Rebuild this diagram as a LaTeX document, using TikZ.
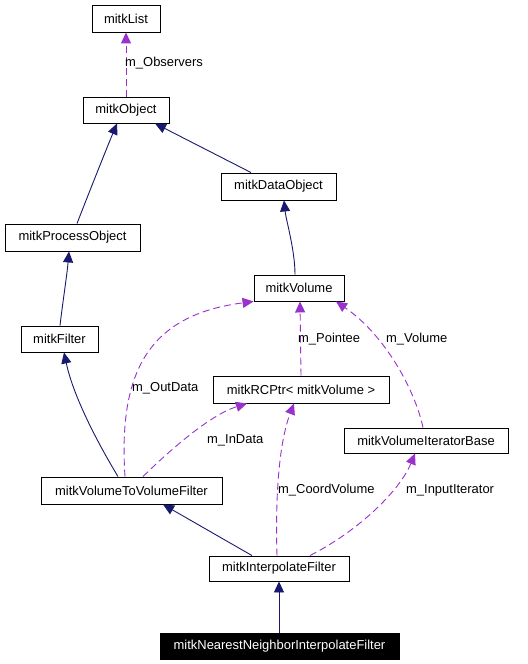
\documentclass[tikz,border=0pt]{standalone}
\usepackage{fontspec}
\setmainfont{Liberation Sans}
\usetikzlibrary{arrows.meta}
\definecolor{inh}{RGB}{25,25,112}
\definecolor{usg}{RGB}{153,50,204}
\begin{document}
\begin{tikzpicture}[x=1bp,y=-1bp,
  every node/.style={font=\fontsize{13}{15}\selectfont},
  cls/.style={draw=black,line width=0.9bp,inner sep=0pt,fill=white},
  hl/.style={cls,fill=black,text=white},
  inhedge/.style={draw=inh,line width=0.9bp,-{Triangle[length=11bp,width=10bp]}},
  usedge/.style={draw=usg,line width=0.9bp,dash pattern=on 7bp off 4bp,-{Triangle[length=11bp,width=10bp]}},
  lbl/.style={anchor=west,inner sep=0pt}]
\useasboundingbox[fill=white] (0,0) rectangle (528,664);
% classes
\node[cls,minimum width=68bp,minimum height=27bp] (list) at (126,18.5) {mitkList};
\node[cls,minimum width=86bp,minimum height=26bp] (object) at (126,110) {mitkObject};
\node[cls,minimum width=115bp,minimum height=27bp] (dataobj) at (278.5,186.5) {mitkDataObject};
\node[cls,minimum width=135bp,minimum height=27bp] (procobj) at (72.5,237.5) {mitkProcessObject};
\node[cls,minimum width=90bp,minimum height=26bp] (volume) at (299,288) {mitkVolume};
\node[cls,minimum width=77bp,minimum height=26bp] (filter) at (59.5,339) {mitkFilter};
\node[cls,minimum width=176bp,minimum height=27bp] (rcptr) at (301,389.5) {mitkRCPtr< mitkVolume >};
\node[cls,minimum width=164bp,minimum height=25bp] (vib) at (426,440.5) {mitkVolumeIteratorBase};
\node[cls,minimum width=181bp,minimum height=27bp] (v2v) at (131.5,490.5) {mitkVolumeToVolumeFilter};
\node[cls,minimum width=140bp,minimum height=25bp] (interp) at (279,568.5) {mitkInterpolateFilter};
\node[hl,minimum width=239bp,minimum height=26bp] (nn) at (279.5,646) {mitkNearestNeighborInterpolateFilter};
% inheritance
\draw[inhedge] ([xshift=4.5bp]procobj.north) .. controls (90,190) and (108,145) .. ([xshift=-9bp]object.south);
\draw[inhedge] ([xshift=-27.5bp]dataobj.north) -- ([xshift=29bp]object.south);
\draw[inhedge] ([xshift=-4bp]volume.north) .. controls (295,250) and (286,220) .. ([xshift=5.5bp]dataobj.south);
\draw[inhedge] ([xshift=0.5bp]filter.north) .. controls (63,300) and (67,275) .. ([xshift=-3.5bp]procobj.south);
\draw[inhedge] ([xshift=-13.5bp]v2v.north) .. controls (90,430) and (72,390) .. ([xshift=4.5bp]filter.south);
\draw[inhedge] ([xshift=-27bp]interp.north) -- ([xshift=31.5bp]v2v.south);
\draw[inhedge] ([xshift=-0.5bp]nn.north) -- (interp.south);
% usage
\draw[usedge] (object.north) -- (list.south);
\draw[usedge] ([xshift=-6.5bp]v2v.north) .. controls (118,370) and (150,315) .. (volume.south west);
\draw[usedge] ([xshift=11.5bp]v2v.north) .. controls (170,450) and (210,415) .. ([xshift=-54bp]rcptr.south);
\draw[usedge] (rcptr.north) -- ([xshift=1bp]volume.south);
\draw[usedge] ([xshift=-3bp]vib.north) .. controls (415,390) and (385,335) .. ([xshift=37bp]volume.south);
\draw[usedge] ([xshift=-2bp]interp.north) .. controls (275,490) and (280,440) .. ([xshift=-7bp]rcptr.south);
\draw[usedge] ([xshift=31bp]interp.north) .. controls (360,530) and (400,490) .. ([xshift=-11bp]vib.south);
% labels
\node[lbl] (lobs) at (125,63) {m\_Observers};
\node[lbl] (lout) at (132,388) {m\_OutData};
\node[lbl] (lin) at (207,440) {m\_InData};
\node[lbl] (lpt) at (298,339) {m\_Pointee};
\node[lbl] (lvol) at (386,339) {m\_Volume};
\node[lbl] (lcv) at (278,490) {m\_CoordVolume};
\node[lbl] (lii) at (406,490) {m\_InputIterator};
\end{tikzpicture}
\end{document}
